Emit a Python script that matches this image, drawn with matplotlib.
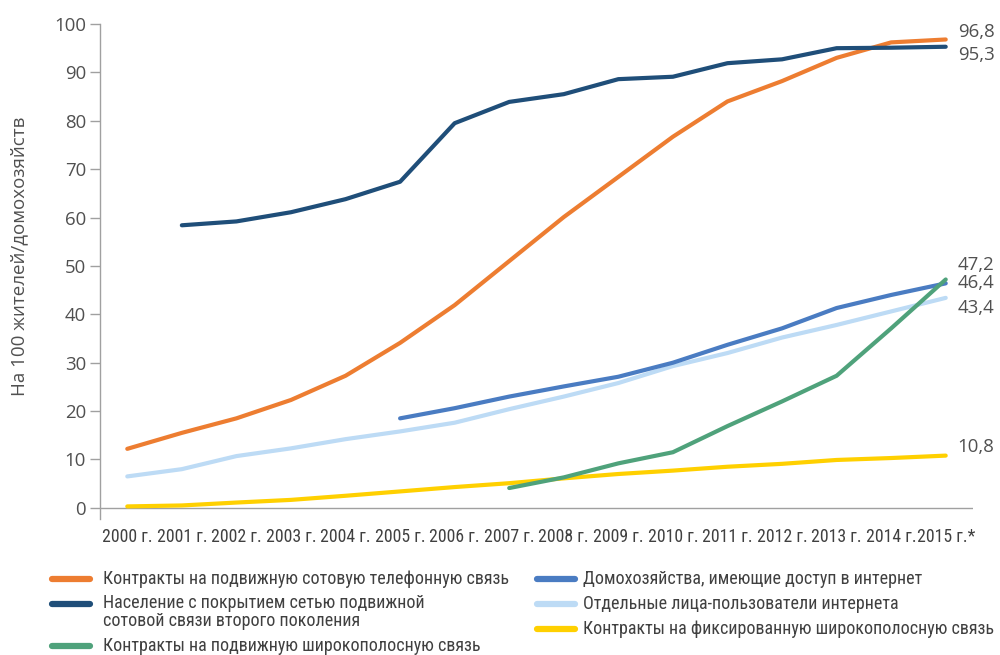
import matplotlib
matplotlib.use("Agg")
import matplotlib.pyplot as plt
from matplotlib.lines import Line2D
import numpy as np

years = ["2000 г.", "2001 г.", "2002 г.", "2003 г.", "2004 г.", "2005 г.", "2006 г.", "2007 г.",
         "2008 г.", "2009 г.", "2010 г.", "2011 г.", "2012 г.", "2013 г.", "2014 г.", "2015 г.*"]

mobile_cell = [12.2, 15.5, 18.5, 22.3, 27.3, 34.1, 41.9, 51.0, 60.1, 68.4, 76.7, 84.0, 88.2, 93.0, 96.2, 96.8]
coverage_2g = [None, 58.4, 59.2, 61.1, 63.8, 67.4, 79.5, 83.9, 85.5, 88.6, 89.1, 91.9, 92.7, 95.0, 95.1, 95.3]
mobile_bb = [None, None, None, None, None, None, None, 4.1, 6.3, 9.2, 11.5, 16.9, 22.0, 27.3, 37.1, 47.2]
households_inet = [None, None, None, None, None, 18.5, 20.6, 23.0, 25.1, 27.1, 30.0, 33.7, 37.1, 41.3, 44.0, 46.4]
individuals_inet = [6.5, 8.0, 10.7, 12.3, 14.2, 15.8, 17.6, 20.4, 23.0, 25.8, 29.3, 32.0, 35.2, 37.8, 40.6, 43.4]
fixed_bb = [0.3, 0.5, 1.1, 1.65, 2.5, 3.4, 4.3, 5.1, 6.1, 7.0, 7.7, 8.5, 9.1, 9.9, 10.3, 10.8]

names = ["Контракты на подвижную сотовую телефонную связь",
         "Население с покрытием сетью подвижной\nсотовой связи второго поколения",
         "Контракты на подвижную широкополосную связь",
         "Домохозяйства, имеющие доступ в интернет",
         "Отдельные лица-пользователи интернета",
         "Контракты на фиксированную широкополосную связь"]
end_labels = ["96,8", "95,3", "47,2", "46,4", "43,4", "10,8"]

series = [mobile_cell, coverage_2g, mobile_bb, households_inet, individuals_inet, fixed_bb]
colors = ["#ED7D31", "#1F4E79", "#4FA27B", "#4A7CC2", "#BDDBF5", "#FFD000"]
order = [4, 3, 5, 2, 0, 1]
label_offsets = [1.5, -1.7, 3.0, 0.1, -2.1, 1.8]

narrow = ["Roboto Condensed", "PT Sans Narrow", "Archivo Narrow", "Liberation Sans", "DejaVu Sans"]
regular = ["Open Sans", "DejaVu Sans"]
txt_color = "#404040"

fig = plt.figure(figsize=(10, 6.55), dpi=100)
ax = fig.add_axes([0.1, 1 - 519 / 655, 0.873, (519 - 24) / 655])

x = np.arange(len(years))
for i in order:
    y = np.array([np.nan if v is None else v for v in series[i]], dtype=float)
    ax.plot(x, y, color=colors[i], lw=3.0, solid_capstyle="round", solid_joinstyle="round", zorder=3)

for i in range(len(series)):
    v = series[i][-1]
    ax.text(15.22, v + label_offsets[i], end_labels[i], ha="left", va="center",
            fontsize=13.4, color="#505050", family=regular, clip_on=False)

ax.set_xlim(-0.5, 15.5)
ax.set_ylim(-2.3, 100)
ax.set_yticks(range(0, 101, 10))
ax.set_yticklabels([str(v) for v in range(0, 101, 10)], family=regular,
                   fontsize=13.4, color="#505050")
ax.set_xticks(x)
ax.set_xticklabels(years, family=narrow, fontsize=12.8, color=txt_color)
ax.tick_params(axis="x", length=0, pad=6.5)
ax.tick_params(axis="y", length=7, width=1, color="#A0A0A0", pad=3)
for s in ["top", "right", "bottom"]:
    ax.spines[s].set_visible(False)
ax.spines["left"].set_color("#A0A0A0")
ax.spines["left"].set_linewidth(1)
ax.axhline(0, color="#A0A0A0", lw=1, zorder=1)
ax.patch.set_alpha(0)

fig.text(0.019, 1 - 256 / 655, "На 100 жителей/домохозяйств", rotation=90, ha="center", va="center",
         fontsize=13.5, color="#505050", family=regular)

# manual legend: (line left x, row y, text x) in pixels
leg_pos = [(52, 579, 103), (52, 604, 103), (52, 646, 103),
           (537, 579, 583), (537, 604, 583), (537, 629, 583)]
for i, (px, py, tx) in enumerate(leg_pos):
    fy = 1 - py / 655
    fig.add_artist(Line2D([px / 1000, (px + 38) / 1000], [fy, fy], color=colors[i], lw=4.5,
                          solid_capstyle="round", transform=fig.transFigure))
    if "\n" in names[i]:
        fig.text(tx / 1000, 1 - (py - 10) / 655, names[i], ha="left", va="top",
                 fontsize=13.0, color=txt_color, family=narrow, linespacing=1.0)
    else:
        fig.text(tx / 1000, fy, names[i], ha="left", va="center",
                 fontsize=13.0, color=txt_color, family=narrow)

fig.savefig("out.png", dpi=100)
